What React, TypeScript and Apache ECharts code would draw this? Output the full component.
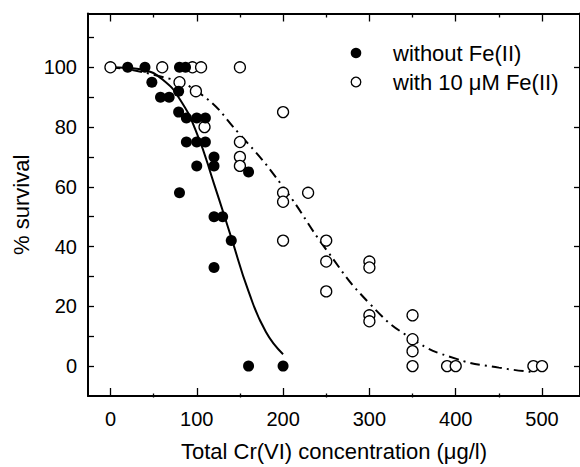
import React, { useEffect, useRef } from "react";
import * as echarts from "echarts";

// Measured data: without Fe(II) (filled circles)
const withoutFe: number[][] = [
  [20, 100], [40, 100], [80, 100], [87, 100],
  [48, 95], [58, 90], [68, 90], [79, 92], [79, 85],
  [88, 83], [100, 83], [110, 83],
  [88, 75], [100, 75], [110, 75],
  [120, 70], [100, 67], [120, 67], [160, 65], [80, 58],
  [120, 50], [130, 50], [140, 42], [120, 33],
  [160, 0], [200, 0],
];

// Measured data: with 10 µM Fe(II) (open circles)
const withFe: number[][] = [
  [0, 100], [60, 100], [95, 100], [105, 100], [150, 100],
  [80, 95], [99, 92], [109, 80],
  [150, 75], [150, 70], [150, 67],
  [200, 85], [200, 58], [200, 55], [229, 58], [200, 42],
  [250, 42], [250, 35], [250, 25],
  [300, 35], [300, 33], [300, 17], [300, 15],
  [350, 17], [350, 9], [350, 5], [350, 0],
  [390, 0], [400, 0], [490, 0], [500, 0],
];

// Fitted curves
const fitWithout: number[][] = [
  [0, 100], [20, 99.8], [40, 99], [60, 96], [80, 89.5], [100, 78],
  [120, 61], [140, 43], [160, 25], [180, 11.5], [200, 4],
];
const fitWith: number[][] = [
  [0, 100], [50, 97.5], [100, 92], [150, 77.5], [200, 60], [250, 39],
  [300, 21], [350, 9], [400, 2.5], [450, -0.5], [490, -2],
];

const xLabelValues = [0, 100, 200, 300, 400, 500];
const xMinorValues = [50, 150, 250, 350, 450];
const yLabelValues = [0, 20, 40, 60, 80, 100];
const yTickValues = [0, 10, 20, 30, 40, 50, 60, 70, 80, 90, 100, 110];

const seriesNames = ["without Fe(II)", "with 10 \u03bcM Fe(II)"];
const xTitle = "Total Cr(VI) concentration (\u03bcg/l)";
const yTitle = "% survival";

const FONT = '"Liberation Sans", Arial, sans-serif';

export default function App() {
  const ref = useRef<HTMLDivElement>(null);
  useEffect(() => {
    if (!ref.current) return;
    const chart = echarts.init(ref.current, null, { renderer: "svg" });
    const XMIN = -26, XMAX = 544, YMIN = -10, YMAX = 118;
    const gridBox = { left: 88, right: -2, top: 13.5, bottom: 69.5 };
    const line = { show: true, onZero: false, lineStyle: { color: "#000", width: 2 } };
    const noLine = { show: false, onZero: false };
    const noLabel = { show: false };
    const hidden = { show: false };
    const tickStyle = { color: "#000", width: 1.3 };
    chart.setOption({
      animation: false,
      backgroundColor: "#fff",
      grid: [
        { ...gridBox, containLabel: false },
        { ...gridBox, containLabel: false },
      ],
      xAxis: [
        {
          type: "value", gridIndex: 0, position: "bottom", min: XMIN, max: XMAX,
          axisLine: line,
          axisTick: { show: true, inside: true, length: 8, customValues: xLabelValues, lineStyle: tickStyle },
          axisLabel: { show: true, customValues: xLabelValues, margin: 13, fontSize: 20, fontFamily: FONT, color: "#000" },
          splitLine: hidden,
          name: xTitle, nameLocation: "middle", nameGap: 44,
          nameTextStyle: { fontSize: 22, fontFamily: FONT, color: "#000" },
        },
        {
          type: "value", gridIndex: 0, position: "top", min: XMIN, max: XMAX,
          axisLine: line,
          axisTick: { show: true, inside: true, length: 8, customValues: xLabelValues, lineStyle: tickStyle },
          axisLabel: noLabel, splitLine: hidden,
        },
        {
          type: "value", gridIndex: 1, position: "bottom", min: XMIN, max: XMAX,
          axisLine: noLine,
          axisTick: { show: true, inside: true, length: 4, customValues: xMinorValues, lineStyle: tickStyle },
          axisLabel: noLabel, splitLine: hidden,
        },
        {
          type: "value", gridIndex: 1, position: "top", min: XMIN, max: XMAX,
          axisLine: noLine,
          axisTick: { show: true, inside: true, length: 4, customValues: xMinorValues, lineStyle: tickStyle },
          axisLabel: noLabel, splitLine: hidden,
        },
      ],
      yAxis: [
        {
          type: "value", gridIndex: 0, position: "left", min: YMIN, max: YMAX,
          axisLine: line,
          axisTick: { show: true, inside: true, length: 6, customValues: yTickValues, lineStyle: tickStyle },
          axisLabel: { show: true, customValues: yLabelValues, margin: 11, fontSize: 20, fontFamily: FONT, color: "#000" },
          splitLine: hidden,
          name: yTitle, nameLocation: "middle", nameGap: 55, nameRotate: 90,
          nameTextStyle: { fontSize: 22, fontFamily: FONT, color: "#000" },
        },
        {
          type: "value", gridIndex: 0, position: "right", min: YMIN, max: YMAX,
          axisLine: line,
          axisTick: { show: true, inside: true, length: 6, customValues: yLabelValues, lineStyle: tickStyle },
          axisLabel: noLabel, splitLine: hidden,
        },
        {
          type: "value", gridIndex: 1, position: "left", min: YMIN, max: YMAX,
          axisLine: noLine, axisTick: hidden, axisLabel: noLabel, splitLine: hidden,
        },
      ],
      graphic: [
        { type: "circle", shape: { cx: 356, cy: 53, r: 5.3 }, style: { fill: "#000" }, z: 10 },
        { type: "circle", shape: { cx: 356, cy: 82, r: 4.8 }, style: { fill: "#fff", stroke: "#000", lineWidth: 1.3 }, z: 10 },
        { type: "text", x: 393, y: 53, style: { text: seriesNames[0], fontSize: 22, fontFamily: FONT, fill: "#000", verticalAlign: "middle" }, z: 10 },
        { type: "text", x: 393, y: 82, style: { text: seriesNames[1], fontSize: 22, fontFamily: FONT, fill: "#000", verticalAlign: "middle" }, z: 10 },
      ],
      series: [
        {
          name: "fit without", type: "line", xAxisIndex: 0, yAxisIndex: 0, data: fitWithout,
          smooth: true, showSymbol: false, symbol: "none", z: 2,
          lineStyle: { color: "#000", width: 2 },
        },
        {
          name: "fit with", type: "line", xAxisIndex: 0, yAxisIndex: 0, data: fitWith,
          smooth: true, showSymbol: false, symbol: "none", z: 2,
          lineStyle: { color: "#000", width: 2, type: [10, 5, 2, 5] },
        },
        {
          name: seriesNames[0], type: "scatter", xAxisIndex: 0, yAxisIndex: 0, data: withoutFe,
          symbol: "circle", symbolSize: 11, z: 4,
          itemStyle: { color: "#000", opacity: 1 },
        },
        {
          name: seriesNames[1], type: "scatter", xAxisIndex: 0, yAxisIndex: 0, data: withFe,
          symbol: "circle", symbolSize: 11, z: 3,
          itemStyle: { color: "#fff", borderColor: "#000", borderWidth: 1.3, opacity: 1 },
        },
      ],
    });
    return () => chart.dispose();
  }, []);
  return (
    <div
      ref={ref}
      style={{ position: "fixed", left: 0, top: 0, width: 580, height: 467, background: "#fff" }}
    />
  );
}
